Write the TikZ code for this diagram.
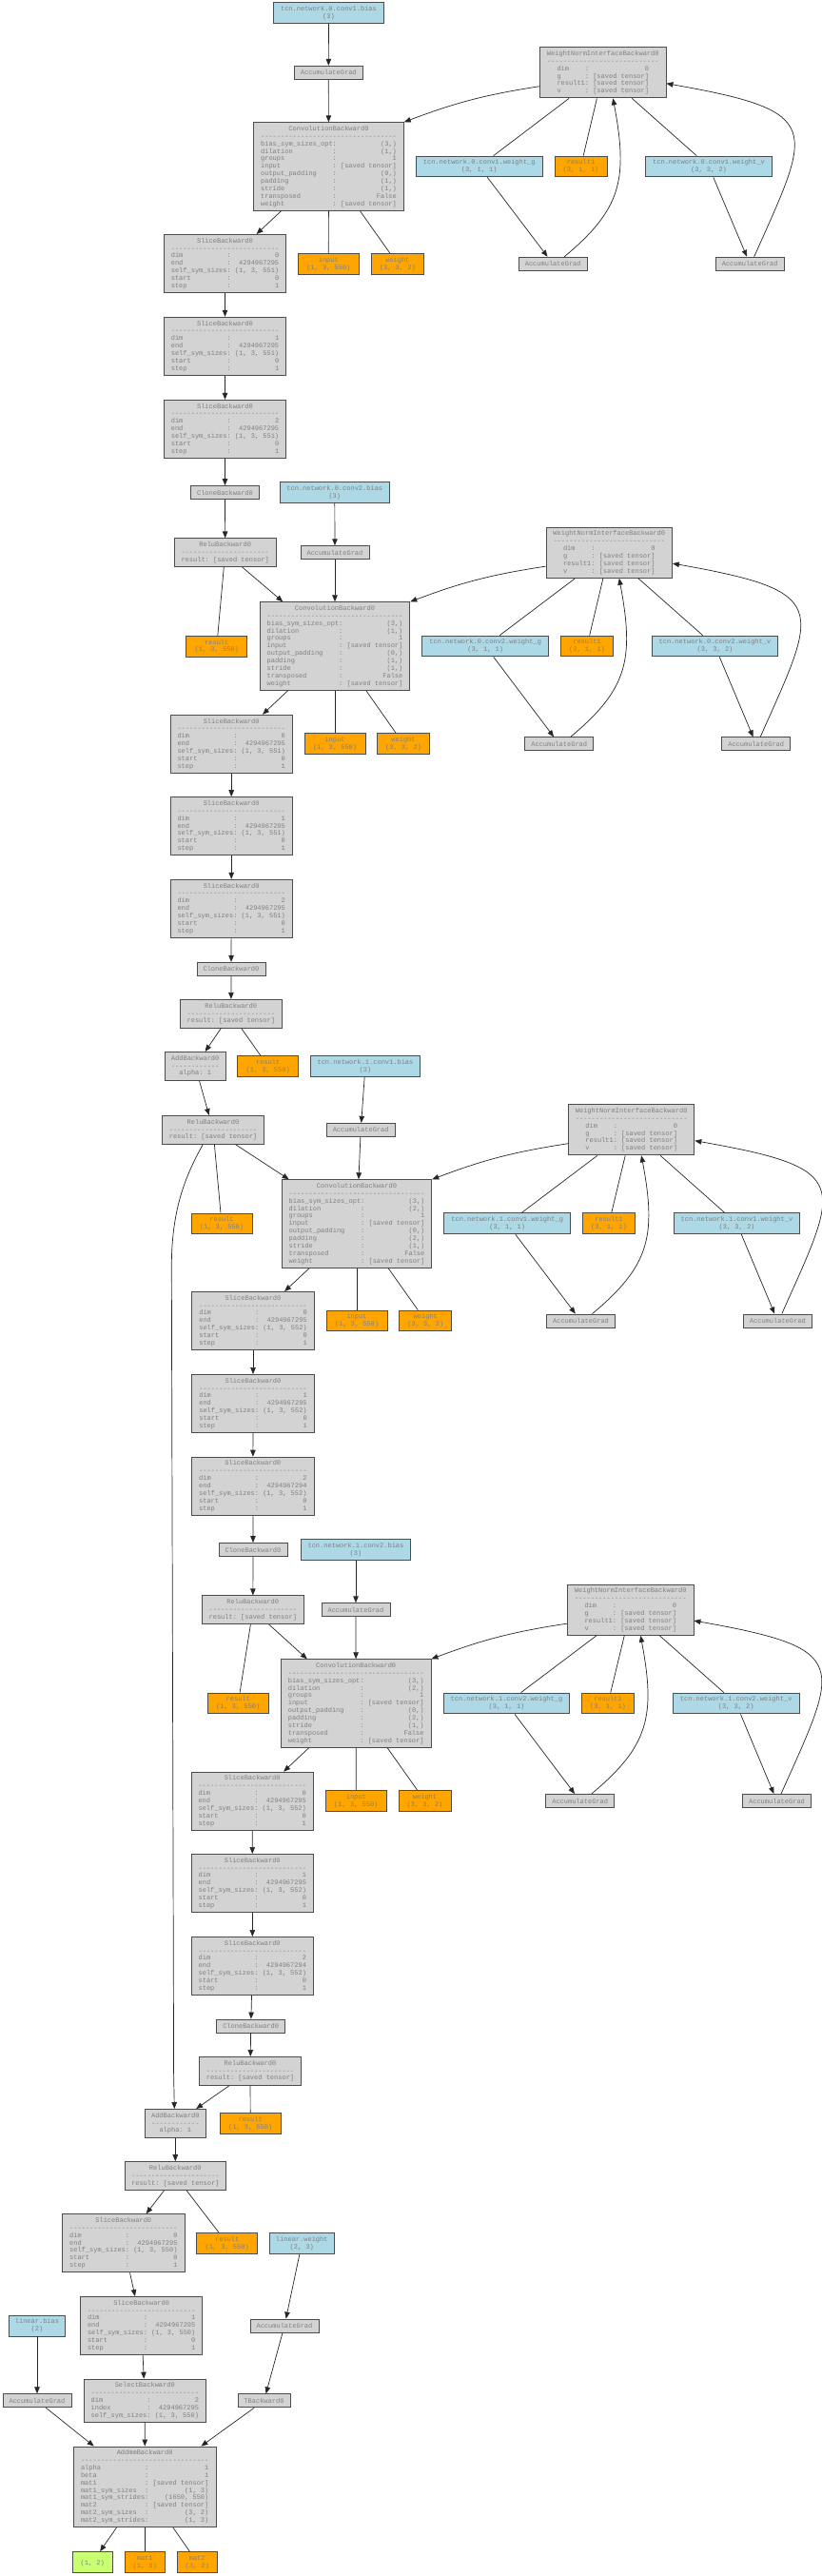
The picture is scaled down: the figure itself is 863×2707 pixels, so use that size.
\documentclass[tikz,border=0pt]{standalone}
\usepackage{fontspec}
\newfontfamily\gvmono{Liberation Mono}
\usetikzlibrary{arrows.meta}
\newlength\gvcw \setlength\gvcw{4.2pt}
\newcommand\gvf{\gvmono\fontsize{7}{7.85}\selectfont}
\newcommand\gvsep[1]{\hbox to #1\gvcw{\xleaders\hbox to \gvcw{\hss-\hss}\hfill}}
\newcommand\gvkv[4]{\makebox[#1\gvcw][l]{#2}\makebox[2\gvcw][l]{:}\makebox[#3\gvcw][r]{#4}}
\newcommand\gvslice[3]{SliceBackward0\\\gvsep{27}\\\gvkv{14}{dim}{11}{#1}\\\gvkv{14}{end}{11}{#2}\\\gvkv{14}{self\_sym\_sizes}{11}{#3}\\\gvkv{14}{start}{11}{0}\\\gvkv{14}{step}{11}{1}}
\newcommand\gvconv[2]{ConvolutionBackward0\\\gvsep{34}\\\gvkv{18}{bias\_sym\_sizes\_opt}{14}{(3,)}\\\gvkv{18}{dilation}{14}{(#1,)}\\\gvkv{18}{groups}{14}{1}\\\gvkv{18}{input}{14}{[saved tensor]}\\\gvkv{18}{output\_padding}{14}{(0,)}\\\gvkv{18}{padding}{14}{(#2,)}\\\gvkv{18}{stride}{14}{(1,)}\\\gvkv{18}{transposed}{14}{False}\\\gvkv{18}{weight}{14}{[saved tensor]}}
\newcommand\gvwn{WeightNormInterfaceBackward0\\\gvsep{28}\\\gvkv{7}{dim}{14}{0}\\\gvkv{7}{g}{14}{[saved tensor]}\\\gvkv{7}{result1}{14}{[saved tensor]}\\\gvkv{7}{v}{14}{[saved tensor]}}
\newcommand\gvrelu{ReluBackward0\\\gvsep{22}\\\gvkv{6}{result}{14}{[saved tensor]}}
\newcommand\gvadd{AddBackward0\\\gvsep{12}\\\gvkv{5}{alpha}{1}{1}}
\definecolor{lgray}{HTML}{D3D3D3}
\definecolor{lblue}{HTML}{ADD8E6}
\definecolor{orng}{HTML}{FFA500}
\definecolor{lgreen}{HTML}{CAFF70}
\tikzset{
 gv/.style={draw=black!70, line width=0.9pt, font=\gvf, text=black!50, align=center, inner sep=0pt},
 gr/.style={gv, fill=lgray},
 bl/.style={gv, fill=lblue},
 og/.style={gv, fill=orng},
 gn/.style={gv, fill=lgreen},
 nl/.style={minimum height=#1*7.85pt+6.15pt},
 wd/.style={minimum width=#1pt},
 agn/.style={gr, nl=1, wd=72},
 slc/.style={gr, nl=7, wd=128.4},
 cnv/.style={gr, nl=11, wd=157.6},
 wnn/.style={gr, nl=6, wd=132.3},
 rlu/.style={gr, nl=3, wd=106.7},
 bbias/.style={bl, nl=2, wd=115.6},
 bw/.style={bl, nl=2, wd=132.7},
 o55/.style={og, nl=2, wd=55},
 o64/.style={og, nl=2, wd=64},
 edge/.style={draw=black!85, line width=0.7pt, -{Triangle[length=7pt,width=5.5pt]}},
 link/.style={draw=black!85, line width=0.7pt},
}
\newcommand\gvwnedges[7]{%
 \draw[edge] ([yshift=-14.4pt]#1.west) to[bend right=6] (#2.north east);
 \draw[link] (#1) -- (#3);
 \draw[link] (#1) -- (#4);
 \draw[link] (#1) -- (#5);
 \draw[edge] (#3) -- (#6);
 \draw[edge] (#5) -- (#7);
 \draw[edge] ([xshift=12pt]#6.north) .. controls +(60,50) and +(16,-85) .. ([xshift=10.5pt]#1.south);
 \draw[edge] ([xshift=4.5pt]#7.north) .. controls +(61,137) and +(167.4,-29.5) .. ([yshift=-11.4pt]#1.east);
}
\begin{document}
\begin{tikzpicture}[x=1pt,y=1pt]
\fill[white] (0,0) rectangle (863,-2707);
\useasboundingbox (0,0) rectangle (863,-2707);
% ---------- block 1
\node[bbias] (n1b) at (345.5,-13.5) {tcn.network.0.conv1.bias\\(3)};
\node[agn] (ag1) at (345.3,-76.3) {AccumulateGrad};
\node[wnn] (wn1) at (633.8,-76.3) {\gvwn};
\node[cnv] (conv1) at (345.5,-175) {\gvconv{1}{1}};
\node[bw] (wg1) at (503.7,-175) {tcn.network.0.conv1.weight\_g\\(3, 1, 1)};
\node[o55] (ra1) at (610.5,-175) {result1\\(3, 1, 1)};
\node[bw] (wv1) at (745,-175) {tcn.network.0.conv1.weight\_v\\(3, 3, 2)};
\node[slc] (s1a) at (236.5,-277) {\gvslice{0}{4294967295}{(1, 3, 551)}};
\node[o64] (in1) at (345.3,-277.3) {input\\(1, 3, 550)};
\node[o55] (we1) at (417.8,-277.3) {weight\\(3, 3, 2)};
\node[agn] (agg1) at (581.2,-277.2) {AccumulateGrad};
\node[agn] (agv1) at (788.2,-277.2) {AccumulateGrad};
\node[slc] (s1b) at (236.5,-363.8) {\gvslice{1}{4294967295}{(1, 3, 551)}};
\node[slc] (s1c) at (236.5,-450.8) {\gvslice{2}{4294967295}{(1, 3, 551)}};
\node[agn] (cl1) at (236.5,-517.5) {CloneBackward0};
\node[rlu] (relu1) at (236.7,-580.7) {\gvrelu};
\node[o64] (res1) at (227.8,-679.2) {result\\(1, 3, 550)};
% ---------- block 2
\node[bbias] (n2b) at (351.8,-517.7) {tcn.network.0.conv2.bias\\(3)};
\node[agn] (ag2) at (352,-580.7) {AccumulateGrad};
\node[wnn] (wn2) at (640.3,-580.7) {\gvwn};
\node[cnv] (conv2) at (352,-679) {\gvconv{1}{1}};
\node[bw] (wg2) at (510.2,-679) {tcn.network.0.conv2.weight\_g\\(3, 1, 1)};
\node[o55] (rb1) at (617,-679) {result1\\(3, 1, 1)};
\node[bw] (wv2) at (751.5,-679) {tcn.network.0.conv2.weight\_v\\(3, 3, 2)};
\node[slc] (s2a) at (243.2,-781.8) {\gvslice{0}{4294967295}{(1, 3, 551)}};
\node[o64] (in2) at (352,-781.5) {input\\(1, 3, 550)};
\node[o55] (we2) at (424,-781.5) {weight\\(3, 3, 2)};
\node[agn] (agg2) at (587.7,-781.8) {AccumulateGrad};
\node[agn] (agv2) at (794.7,-781.8) {AccumulateGrad};
\node[slc] (s2b) at (243.2,-868.2) {\gvslice{1}{4294967295}{(1, 3, 551)}};
\node[slc] (s2c) at (243.2,-954.8) {\gvslice{2}{4294967295}{(1, 3, 551)}};
\node[agn] (cl2) at (243,-1018.3) {CloneBackward0};
\node[rlu] (relu2) at (242.8,-1065.2) {\gvrelu};
% ---------- block 3
\node[gr, nl=3, wd=63.7] (add1) at (205.2,-1120.3) {\gvadd};
\node[o64] (res2) at (281.7,-1120.3) {result\\(1, 3, 550)};
\node[bbias] (n3b) at (384,-1120.3) {tcn.network.1.conv1.bias\\(3)};
\node[rlu] (relu3) at (224,-1187.3) {\gvrelu};
\node[agn] (ag3) at (379.2,-1187.3) {AccumulateGrad};
\node[wnn] (wn3) at (663.7,-1187.3) {\gvwn};
\node[cnv] (conv3) at (375,-1286) {\gvconv{2}{2}};
\node[o64] (res3) at (233,-1286) {result\\(1, 3, 550)};
\node[bw] (wg3) at (533.2,-1285.8) {tcn.network.1.conv1.weight\_g\\(3, 1, 1)};
\node[o55] (rc1) at (640,-1285.8) {result1\\(3, 1, 1)};
\node[bw] (wv3) at (774.5,-1285.8) {tcn.network.1.conv1.weight\_v\\(3, 3, 2)};
\node[slc] (s3a) at (266,-1388) {\gvslice{0}{4294967295}{(1, 3, 552)}};
\node[o64] (in3) at (375,-1388) {input\\(1, 3, 550)};
\node[o55] (we3) at (447.3,-1388) {weight\\(3, 3, 2)};
\node[agn] (agg3) at (610.5,-1388) {AccumulateGrad};
\node[agn] (agv3) at (817.3,-1388) {AccumulateGrad};
\node[slc] (s3b) at (266,-1475) {\gvslice{1}{4294967295}{(1, 3, 552)}};
\node[slc] (s3c) at (265.8,-1561.7) {\gvslice{2}{4294967294}{(1, 3, 552)}};
\node[agn] (cl3) at (266,-1628.5) {CloneBackward0};
% ---------- block 4
\node[bbias] (n4b) at (374,-1628.5) {tcn.network.1.conv2.bias\\(3)};
\node[rlu] (relu4) at (265.8,-1691.7) {\gvrelu};
\node[agn] (ag4) at (374,-1691.7) {AccumulateGrad};
\node[wnn] (wn4) at (662.8,-1691.7) {\gvwn};
\node[cnv] (conv4) at (374.2,-1790) {\gvconv{2}{2}};
\node[o64] (res4) at (250.3,-1790) {result\\(1, 3, 550)};
\node[bw] (wg4) at (532.5,-1790) {tcn.network.1.conv2.weight\_g\\(3, 1, 1)};
\node[o55] (rd1) at (639,-1790) {result1\\(3, 1, 1)};
\node[bw] (wv4) at (773.7,-1790) {tcn.network.1.conv2.weight\_v\\(3, 3, 2)};
\node[slc] (s4a) at (265.2,-1892.7) {\gvslice{0}{4294967295}{(1, 3, 552)}};
\node[o64] (in4) at (374.3,-1892.3) {input\\(1, 3, 550)};
\node[o55] (we4) at (446.5,-1892.3) {weight\\(3, 3, 2)};
\node[agn] (agg4) at (609.7,-1892.5) {AccumulateGrad};
\node[agn] (agv4) at (816.5,-1892.5) {AccumulateGrad};
\node[slc] (s4b) at (265.3,-1979) {\gvslice{1}{4294967295}{(1, 3, 552)}};
\node[slc] (s4c) at (265.3,-2066) {\gvslice{2}{4294967294}{(1, 3, 552)}};
\node[agn] (cl4) at (263.7,-2129) {CloneBackward0};
\node[rlu] (relu5) at (263,-2176.3) {\gvrelu};
% ---------- head
\node[gr, nl=3, wd=63.7] (add2) at (184.3,-2231.3) {\gvadd};
\node[o64] (res5) at (263.2,-2231.5) {result\\(1, 3, 550)};
\node[rlu] (relu6) at (184.3,-2286.5) {\gvrelu};
\node[slc] (s5a) at (129.8,-2357.3) {\gvslice{0}{4294967295}{(1, 3, 550)}};
\node[o64] (res6) at (238.7,-2357.3) {result\\(1, 3, 550)};
\node[bl, nl=2, wd=68] (lw) at (317.3,-2357.3) {linear.weight\\(2, 3)};
\node[slc] (s5b) at (148.7,-2444) {\gvslice{1}{4294967295}{(1, 3, 550)}};
\node[bl, nl=2, wd=59.3] (lb) at (39,-2444) {linear.bias\\(2)};
\node[agn] (aglw) at (299,-2444) {AccumulateGrad};
\node[agn] (aglb) at (39,-2522.8) {AccumulateGrad};
\node[gr, nl=5, wd=128.7] (sel) at (152.3,-2522.8) {SelectBackward0\\\gvsep{27}\\\gvkv{14}{dim}{11}{2}\\\gvkv{14}{index}{11}{4294967295}\\\gvkv{14}{self\_sym\_sizes}{11}{(1, 3, 550)}};
\node[gr, nl=1, wd=55] (tb) at (277.5,-2522.8) {TBackward0};
\node[gr, nl=10, wd=149.7] (addmm) at (152.2,-2613.3) {AddmmBackward0\\\gvsep{32}\\\gvkv{16}{alpha}{14}{1}\\\gvkv{16}{beta}{14}{1}\\\gvkv{16}{mat1}{14}{[saved tensor]}\\\gvkv{16}{mat1\_sym\_sizes}{14}{(1, 3)}\\\gvkv{16}{mat1\_sym\_strides}{14}{(1650, 550)}\\\gvkv{16}{mat2}{14}{[saved tensor]}\\\gvkv{16}{mat2\_sym\_sizes}{14}{(3, 2)}\\\gvkv{16}{mat2\_sym\_strides}{14}{(1, 3)}};
\node[gn, nl=2, wd=42.3] (out) at (97.2,-2692.5) {\mbox{}\\(1, 2)};
\node[og, nl=2, wd=42.3] (m1) at (152.2,-2692.5) {mat1\\(1, 3)};
\node[og, nl=2, wd=42.3] (m2) at (207.2,-2692.5) {mat2\\(3, 2)};
\coordinate (bendA) at (180.3,-1330);
\coordinate (bendB) at (182.6,-2180);
% ---------- edges block 1
\draw[edge] (n1b) -- (ag1);
\draw[edge] (ag1) -- (conv1);
\draw[edge] (conv1) -- (s1a);
\draw[link] (conv1) -- (in1);
\draw[link] (conv1) -- (we1);
\gvwnedges{wn1}{conv1}{wg1}{ra1}{wv1}{agg1}{agv1}
\draw[edge] (s1a) -- (s1b);
\draw[edge] (s1b) -- (s1c);
\draw[edge] (s1c) -- (cl1);
\draw[edge] (cl1) -- (relu1);
\draw[edge] (relu1) -- (conv2);
\draw[link] (relu1) -- (res1);
% ---------- edges block 2
\draw[edge] (n2b) -- (ag2);
\draw[edge] (ag2) -- (conv2);
\draw[edge] (conv2) -- (s2a);
\draw[link] (conv2) -- (in2);
\draw[link] (conv2) -- (we2);
\gvwnedges{wn2}{conv2}{wg2}{rb1}{wv2}{agg2}{agv2}
\draw[edge] (s2a) -- (s2b);
\draw[edge] (s2b) -- (s2c);
\draw[edge] (s2c) -- (cl2);
\draw[edge] (cl2) -- (relu2);
\draw[edge] (relu2) -- (add1);
\draw[link] (relu2) -- (res2);
\draw[edge] (add1) -- (relu3);
% ---------- edges block 3
\draw[edge] (n3b) -- (ag3);
\draw[edge] (ag3) -- (conv3);
\draw[edge] (relu3) -- (conv3);
\draw[link] (relu3) -- (res3);
\draw[edge] ([xshift=-10.7pt]relu3.south) .. controls +(-18.3,-33) and +(0.2,60) .. (bendA) -- (bendB) -- ([xshift=-1pt]add2.north);
\draw[edge] (conv3) -- (s3a);
\draw[link] (conv3) -- (in3);
\draw[link] (conv3) -- (we3);
\gvwnedges{wn3}{conv3}{wg3}{rc1}{wv3}{agg3}{agv3}
\draw[edge] (s3a) -- (s3b);
\draw[edge] (s3b) -- (s3c);
\draw[edge] (s3c) -- (cl3);
\draw[edge] (cl3) -- (relu4);
\draw[edge] (relu4) -- (conv4);
\draw[link] (relu4) -- (res4);
% ---------- edges block 4
\draw[edge] (n4b) -- (ag4);
\draw[edge] (ag4) -- (conv4);
\draw[edge] (conv4) -- (s4a);
\draw[link] (conv4) -- (in4);
\draw[link] (conv4) -- (we4);
\gvwnedges{wn4}{conv4}{wg4}{rd1}{wv4}{agg4}{agv4}
\draw[edge] (s4a) -- (s4b);
\draw[edge] (s4b) -- (s4c);
\draw[edge] (s4c) -- (cl4);
\draw[edge] (cl4) -- (relu5);
\draw[edge] (relu5) -- (add2);
\draw[link] (relu5) -- (res5);
% ---------- edges head
\draw[edge] (add2) -- (relu6);
\draw[edge] (relu6) -- (s5a);
\draw[link] (relu6) -- (res6);
\draw[edge] (s5a) -- (s5b);
\draw[edge] (s5b) -- (sel);
\draw[edge] (lw) -- (aglw);
\draw[edge] (aglw) -- (tb);
\draw[edge] (lb) -- (aglb);
\draw[edge] (aglb) -- (addmm);
\draw[edge] (sel) -- (addmm);
\draw[edge] (tb) -- (addmm);
\draw[edge] (addmm) -- (out);
\draw[link] (addmm) -- (m1);
\draw[link] (addmm) -- (m2);
\end{tikzpicture}
\end{document}
